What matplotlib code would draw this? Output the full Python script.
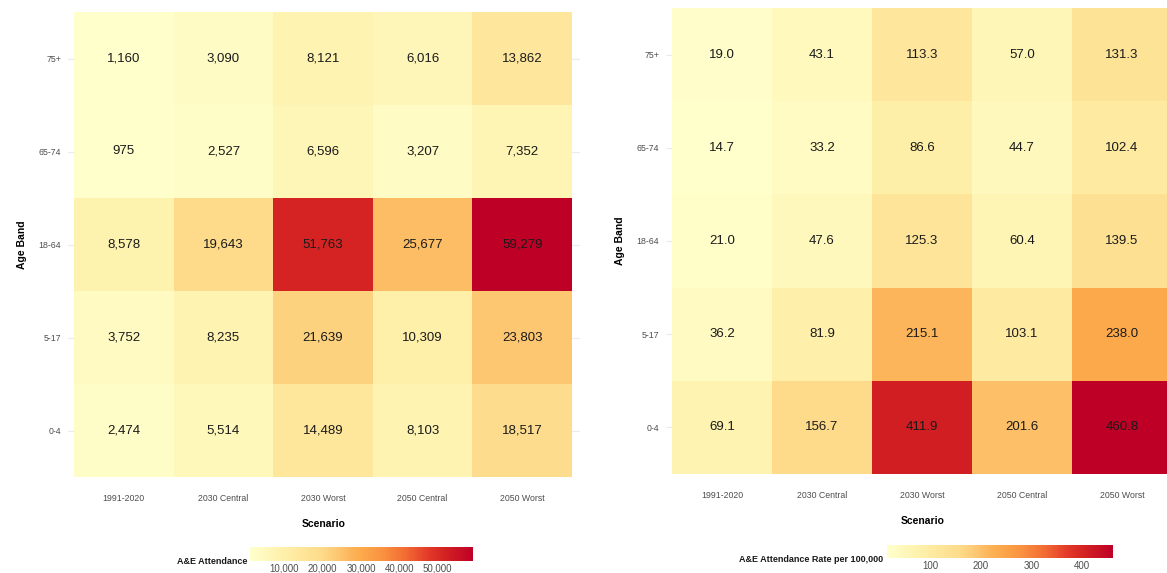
import numpy as np
import matplotlib
matplotlib.use("Agg")
import matplotlib.pyplot as plt
from matplotlib.colors import LinearSegmentedColormap

plt.rcParams['font.family'] = ['Liberation Sans', 'DejaVu Sans']

scenarios = ['1991-2020', '2030 Central', '2030 Worst', '2050 Central', '2050 Worst']
# bottom to top
age_bands = ['0-4', '5-17', '18-64', '65-74', '75+']

attendance = np.array([
    [2474, 5514, 14489, 8103, 18517],
    [3752, 8235, 21639, 10309, 23803],
    [8578, 19643, 51763, 25677, 59279],
    [975, 2527, 6596, 3207, 7352],
    [1160, 3090, 8121, 6016, 13862],
])

rate = np.array([
    [69.1, 156.7, 411.9, 201.6, 460.8],
    [36.2, 81.9, 215.1, 103.1, 238.0],
    [21.0, 47.6, 125.3, 60.4, 139.5],
    [14.7, 33.2, 86.6, 44.7, 102.4],
    [19.0, 43.1, 113.3, 57.0, 131.3],
])

att_ticks = [10000, 20000, 30000, 40000, 50000]
rate_ticks = [100, 200, 300, 400]

# yellow -> orange -> red gradient, matched by eye to the tiles
cmap = LinearSegmentedColormap.from_list('ylorrd', [
    (0.0, '#ffffcc'), (0.15, '#fef0aa'), (0.32, '#fddb8a'), (0.39, '#fdc873'),
    (0.45, '#fcb55a'), (0.5, '#fcaa4b'), (0.6, '#f99040'), (0.7, '#f26a32'),
    (0.8, '#e3392a'), (0.87, '#d42322'), (1.0, '#bf0026')])

W, H = 1167, 573
fig = plt.figure(figsize=(W / 100, H / 100), dpi=100)


def px_axes(x0, x1, y0, y1):
    return fig.add_axes([x0 / W, 1 - y1 / H, (x1 - x0) / W, (y1 - y0) / H])


def heat(ax, data, fmt, xlim, ylim):
    m = ax.pcolormesh(np.arange(6) - 0.5, np.arange(6) - 0.5, data, cmap=cmap,
                      vmin=data.min(), vmax=data.max(), zorder=2)
    for i in range(5):
        for j in range(5):
            ax.text(j, i, fmt(data[i, j]), ha='center', va='center',
                    fontsize=9.5, color='#1a1a1a', zorder=3)
    ax.set_xlim(*xlim)
    ax.set_ylim(*ylim)
    ax.set_xticks(range(5))
    ax.set_xticklabels(scenarios)
    ax.set_yticks(range(5))
    ax.set_yticklabels(age_bands)
    ax.tick_params(length=0, labelsize=6.3, labelcolor='#4d4d4d')
    ax.tick_params(axis='x', pad=12)
    ax.tick_params(axis='y', pad=5)
    ax.grid(axis='y', color='#ebebeb', lw=0.8, zorder=0)
    for s in ax.spines.values():
        s.set_visible(False)
    ax.set_xlabel('Scenario', fontsize=7.5, fontweight='bold', labelpad=12)
    ax.set_ylabel('Age Band', fontsize=7.5, fontweight='bold', labelpad=8)
    return m


# left panel
ax1 = px_axes(68, 580, 12, 477)
m1 = heat(ax1, attendance, lambda v: f'{v:,.0f}', (-0.56, 4.58), (-0.5, 4.5))

# right panel (runs off the right edge)
ax2 = px_axes(666, 1180, 8, 474)
m2 = heat(ax2, rate, lambda v: f'{v:.1f}', (-0.56, 4.58), (-0.5, 4.5))


def bar(m, x0, x1, y0, y1, ticks, fmt, title, tx):
    cax = px_axes(x0, x1, y0, y1)
    cb = fig.colorbar(m, cax=cax, orientation='horizontal', ticks=ticks)
    cb.outline.set_visible(False)
    cb.ax.set_xticklabels([fmt(t) for t in ticks])
    cb.ax.tick_params(length=0, labelsize=7, labelcolor='#4d4d4d', pad=2)
    fig.text(tx / W, 1 - (y1 + 1) / H, title, ha='right', va='center',
             fontsize=6.5, fontweight='bold', color='#1a1a1a')


bar(m1, 250, 473, 547, 561, att_ticks, lambda t: f'{t:,}', 'A&E Attendance', 247)
bar(m2, 887, 1113, 545, 558, rate_ticks, lambda t: f'{t}',
    'A&E Attendance Rate per 100,000', 883)

fig.savefig('out.png', dpi=100)
